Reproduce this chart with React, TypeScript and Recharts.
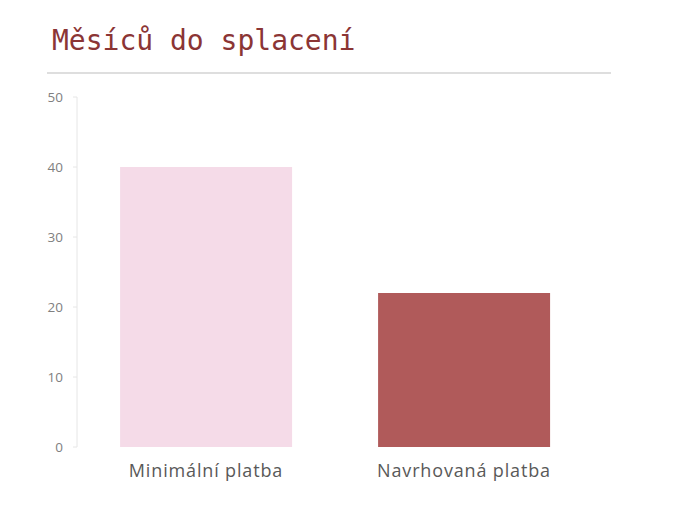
import React from "react";
import { BarChart, Bar, XAxis, YAxis, Cell } from "recharts";

const categories = ["Minimální platba", "Navrhovaná platba"];
const months = [40, 22];
const barColors = ["#F5DBE8", "#B05A5A"];
const yTicks = [0, 10, 20, 30, 40, 50];

const data = categories.map((name, i) => ({ name, value: months[i] }));

export default function App() {
  return (
    <div style={{ position: "absolute", left: 0, top: 0, width: 675, height: 520, background: "#fff" }}>
      <div
        style={{
          position: "absolute",
          left: 52,
          top: 23,
          fontFamily: "'DejaVu Sans Mono', 'Liberation Mono', monospace",
          fontSize: 28,
          color: "#8B3535",
          lineHeight: "36px",
          whiteSpace: "nowrap",
        }}
      >
        Měsíců do splacení
      </div>
      <div style={{ position: "absolute", left: 47, top: 72, width: 564, height: 2, background: "#dedede" }} />
      <div style={{ position: "absolute", left: 0, top: 0 }}>
        <BarChart
          width={675}
          height={520}
          data={data}
          margin={{ top: 97, right: 82, left: 0, bottom: 33 }}
          barCategoryGap="16.7%"
        >
          <YAxis
            width={77}
            domain={[0, 50]}
            ticks={yTicks}
            interval={0}
            axisLine={{ stroke: "#e6e6e6" }}
            tickLine={{ stroke: "#e6e6e6" }}
            tickSize={4}
            tickMargin={10}
            tick={{ fontSize: 13.5, fill: "#808080", fontFamily: "'Open Sans', Lato, sans-serif" }}
          />
          <XAxis
            dataKey="name"
            height={40}
            axisLine={false}
            tickLine={false}
            tickSize={0}
            tickMargin={17}
            tick={{ fontSize: 18, fill: "#595959", fontFamily: "'Open Sans', Lato, sans-serif", letterSpacing: 0.85 }}
          />
          <Bar dataKey="value" isAnimationActive={false}>
            {data.map((d, i) => (
              <Cell key={d.name} fill={barColors[i]} />
            ))}
          </Bar>
        </BarChart>
      </div>
    </div>
  );
}
